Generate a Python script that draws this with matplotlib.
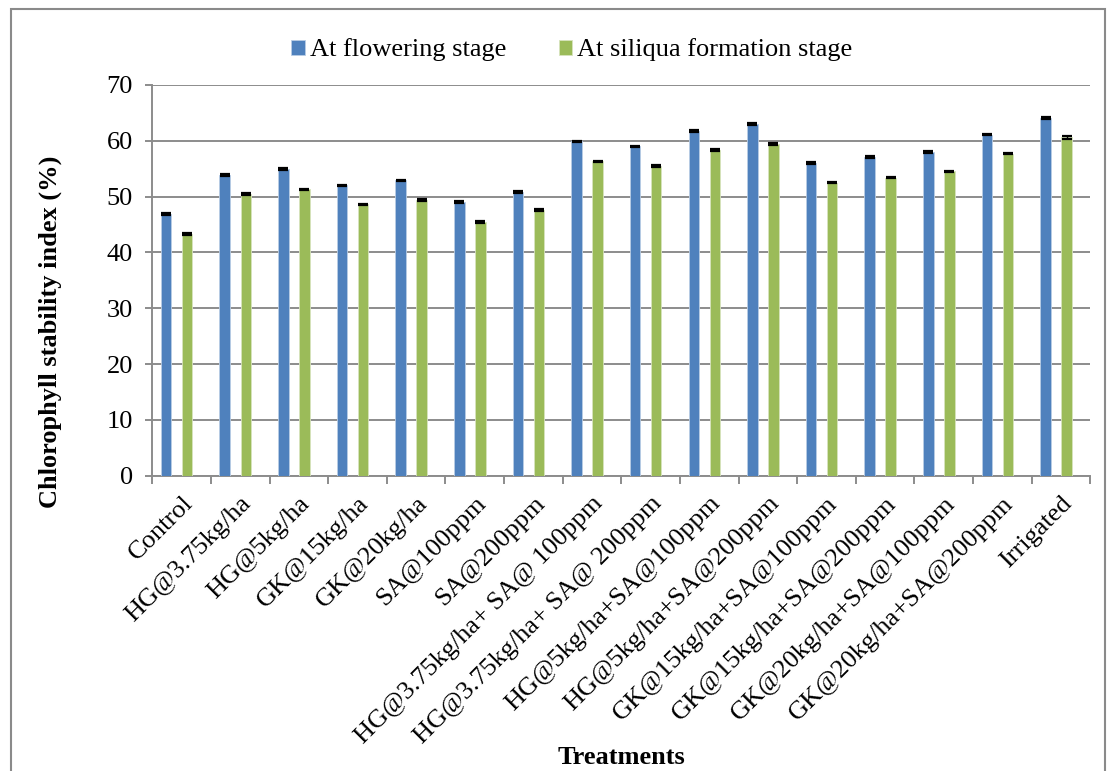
import numpy as np
import matplotlib
matplotlib.use("Agg")
import matplotlib.pyplot as plt
from matplotlib.patches import Rectangle

plt.rcParams['font.family'] = ['Liberation Serif', 'DejaVu Serif']

treatments = ["Control", "HG@3.75kg/ha", "HG@5kg/ha", "GK@15kg/ha", "GK@20kg/ha",
              "SA@100ppm", "SA@200ppm", "HG@3.75kg/ha+ SA@ 100ppm",
              "HG@3.75kg/ha+ SA@ 200ppm", "HG@5kg/ha+SA@100ppm", "HG@5kg/ha+SA@200ppm",
              "GK@15kg/ha+SA@100ppm", "GK@15kg/ha+SA@200ppm", "GK@20kg/ha+SA@100ppm",
              "GK@20kg/ha+SA@200ppm", "Irrigated"]
flowering = [46.9, 53.9, 54.9, 52.0, 52.9, 49.0, 50.8, 59.9, 59.0, 61.8, 63.0,
             56.0, 57.1, 58.0, 61.1, 64.1]
siliqua = [43.3, 50.5, 51.3, 48.6, 49.4, 45.5, 47.6, 56.3, 55.5, 58.4, 59.4,
           52.5, 53.4, 54.5, 57.7, 60.6]
err_flowering = [0.15] * 15 + [0.2]
err_siliqua = [0.15] * 15 + [0.3]

blue = "#4F81BD"
green = "#9BBB59"
grid_c = "#8C8C8C"

fig = plt.figure(figsize=(11.1, 7.71), dpi=100)
ax = fig.add_axes([0.1372, 0.383, 0.8451, 0.5068])

x = np.arange(len(treatments))
w = 0.18
ax.bar(x - 0.264, flowering, w, color=blue, edgecolor="#B9CDE5", linewidth=0.6, zorder=3,
       label="At flowering stage")
ax.bar(x + 0.095, siliqua, w, color=green, edgecolor="#D7E4BD", linewidth=0.6, zorder=3,
       label="At siliqua formation stage")
ax.errorbar(x - 0.264, flowering, yerr=err_flowering, fmt="none", ecolor="black",
            elinewidth=1, capsize=3.8, capthick=1.6, zorder=4)
ax.errorbar(x + 0.095, siliqua, yerr=err_siliqua, fmt="none", ecolor="black",
            elinewidth=1, capsize=3.8, capthick=1.6, zorder=4)

ax.set_xlim(-0.5, len(treatments) - 0.5)
ax.set_ylim(0, 70)
ax.set_yticks(np.arange(0, 71, 10))
ax.yaxis.grid(True, color=grid_c, linewidth=1.4, zorder=0)
for s in ["top", "right"]:
    ax.spines[s].set_visible(False)
for s in ["left", "bottom"]:
    ax.spines[s].set_color(grid_c)
    ax.spines[s].set_linewidth(1.4)

ax.set_xticks(x)
ax.set_xticklabels(treatments, rotation=45, ha="right", rotation_mode="anchor")
ax.set_xticks(np.arange(-0.5, len(treatments)), minor=True)
ax.tick_params(axis="x", which="major", length=0, pad=12, labelsize=19)
ax.tick_params(axis="x", which="minor", length=5.5, width=1.4, color=grid_c)
ax.tick_params(axis="y", length=5, width=1.4, color=grid_c, pad=9, labelsize=19)

fig.text(50 / 1110, 1 - 332 / 771, "Chlorophyll stability index (%)", rotation=90,
         ha="center", va="center", fontsize=19, fontweight="bold")
fig.text(621 / 1110, 1 - 757 / 771, "Treatments", ha="center", va="center",
         fontsize=19, fontweight="bold")

fig.legend(loc="center", bbox_to_anchor=(572 / 1110, 1 - 50 / 771), ncol=2, frameon=False,
           fontsize=19, handlelength=0.5, handleheight=0.5, handletextpad=0.2,
           columnspacing=2.0)

fig.patches.append(Rectangle((11 / 1110, -0.05), (1105 - 11) / 1110, 0.05 + 1 - 9 / 771,
                             transform=fig.transFigure, fill=False, edgecolor="#8A8A8A",
                             linewidth=1.5))

fig.savefig("out.png", dpi=100)
